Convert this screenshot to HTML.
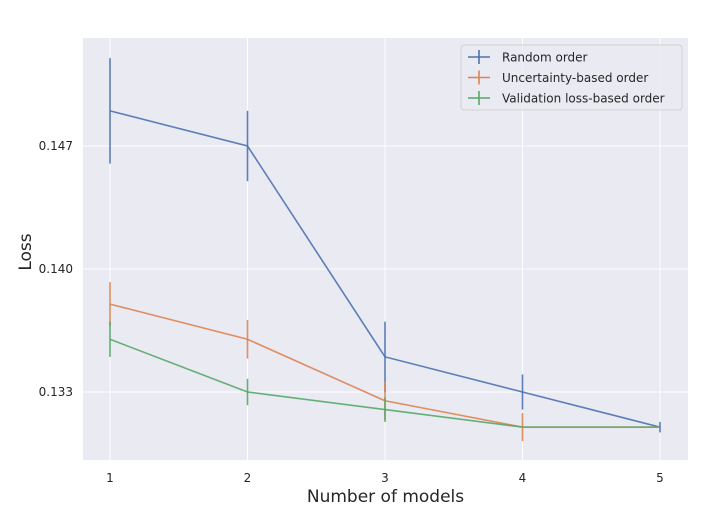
<!DOCTYPE html>
<html><head><meta charset="utf-8"><style>body{margin:0;background:#fff}svg{display:block;font-family:"DejaVu Sans","Liberation Sans",sans-serif}</style></head>
<body>
<svg id="c" width="708" height="520"></svg>
<script>
const categories=[1,2,3,4,5];
const randomVals=[0.149,0.147,0.135,0.133,0.131];
const randomErr=[0.003,0.002,0.002,0.001,0.0003];
const uncertVals=[0.138,0.136,0.1325,0.131,0.131];
const uncertErr=[0.00125,0.0011,0.0011,0.0008,0];
const valVals=[0.136,0.133,0.132,0.131,0.131];
const valErr=[0.001,0.00075,0.0007,0,0];
const yTicks=[0.133,0.140,0.147];
const yLabels=["0.133","0.140","0.147"];
const seriesNames=["Random order","Uncertainty-based order","Validation loss-based order"];
const L=83,R=688,T=38,B=460;
const xs=v=>110+(v-1)*137.5;
const ys=v=>146+(0.147-v)*17571;
const svg=document.getElementById('c');
const NS='http://www.w3.org/2000/svg';
function el(t,a,p){const e=document.createElementNS(NS,t);for(const k in a)e.setAttribute(k,a[k]);(p||svg).appendChild(e);return e;}
const bg=el('rect',{x:L,y:T,width:R-L,height:B-T,fill:'#eaeaf2'});


categories.forEach(c=>{
 const g=el('line',{x1:xs(c),x2:xs(c),y1:T,y2:B,stroke:'#fff','stroke-width':1});
 
 
 const t=el('text',{x:xs(c),y:482,'text-anchor':'middle','font-size':12,fill:'#262626'});
 t.textContent=c;
 
 
});
yTicks.forEach((v,i)=>{
 const g=el('line',{x1:L,x2:R,y1:ys(v),y2:ys(v),stroke:'#fff','stroke-width':1});
 
 
 const t=el('text',{x:73,y:ys(v)+4,'text-anchor':'end','font-size':12,fill:'#262626'});
 t.textContent=yLabels[i];
 
 
});
const series=[[randomVals,randomErr,'#4c72b0'],[uncertVals,uncertErr,'#dd8452'],[valVals,valErr,'#55a868']];
series.forEach((s,si)=>{
 const [v,e,col]=s;
 const pl=el('polyline',{points:v.map((y,i)=>xs(categories[i])+','+ys(y)).join(' '),fill:'none',stroke:col,'stroke-width':1.6,opacity:0.9});
 
 
 v.forEach((y,i)=>{
  if(e[i]<=0)return;
  const b=el('line',{x1:xs(categories[i]),x2:xs(categories[i]),y1:ys(y+e[i]),y2:ys(y-e[i]),stroke:col,'stroke-width':1.6,opacity:0.9});
  
  
 });
});
const xt=el('text',{x:(L+R)/2,y:502,'text-anchor':'middle','font-size':17,fill:'#262626'});
xt.textContent='Number of models';


const yt=el('text',{x:0,y:0,'text-anchor':'middle','font-size':17,fill:'#262626',transform:'translate(31,252) rotate(-90)'});
yt.textContent='Loss';


const lg=el('g',{});


el('rect',{x:461,y:45,width:221,height:65,fill:'#eaeaf2',stroke:'#cccccc','stroke-width':1,rx:3,opacity:0.8},lg);
seriesNames.forEach((n,i)=>{
 const y=57+i*20.5;const col=series[i][2];
 el('line',{x1:468,x2:490,y1:y,y2:y,stroke:col,'stroke-width':1.6},lg);
 el('line',{x1:479,x2:479,y1:y-7,y2:y+7,stroke:col,'stroke-width':1.6},lg);
 const t=el('text',{x:502,y:y+4.5,'font-size':12,fill:'#262626'},lg);
 t.textContent=n;
 
 
});
</script>
</body></html>
